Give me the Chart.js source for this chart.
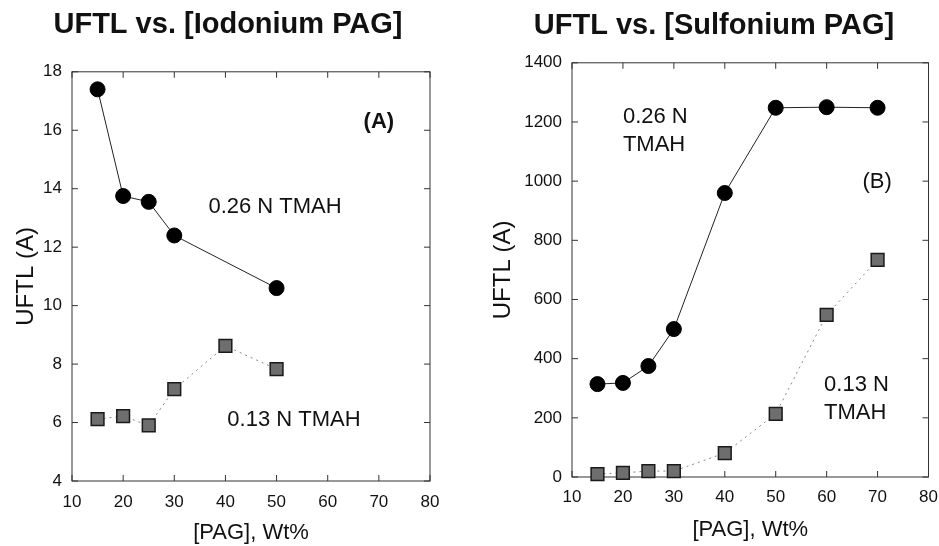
<!DOCTYPE html>
<html>
<head>
<meta charset="utf-8">
<script src="https://cdn.jsdelivr.net/npm/chart.js@4.4.0/dist/chart.umd.min.js"></script>
<style>
body { margin: 0; background: #fff; width: 939px; height: 546px; position: relative; overflow: hidden; }
.box { position: absolute; top: 0; height: 546px; }
#boxA { left: 0; width: 456px; }
#boxB { left: 489px; width: 450px; }
</style>
</head>
<body>
<div class="box" id="boxA"><canvas id="chartA"></canvas></div>
<div class="box" id="boxB"><canvas id="chartB"></canvas></div>
<script>
// (A) iodonium PAG
const pagA026 = [15, 20, 25, 30, 50];
const uftlA026 = [17.4, 13.75, 13.55, 12.4, 10.6];
const pagA013 = [15, 20, 25, 30, 40, 50];
const uftlA013 = [6.12, 6.22, 5.9, 7.14, 8.62, 7.83];

// (B) sulfonium PAG
const pagB = [15, 20, 25, 30, 40, 50, 60, 70];
const uftlB026 = [314, 318, 375, 500, 960, 1248, 1250, 1248];
const uftlB013 = [10, 14, 20, 20, 81, 213, 548, 734];

const FONT = "'Liberation Sans', Arial, sans-serif";
Chart.defaults.font.family = FONT;
Chart.defaults.color = '#111';

function pts(xs, ys) {
    return xs.map((x, i) => ({x: x, y: ys[i]}));
}

// box round the plot with short ticks pointing inwards on every side
const framePlugin = {
    id: 'frame',
    beforeDatasetsDraw(chart) {
        const {ctx, chartArea: a, scales} = chart;
        ctx.save();
        ctx.strokeStyle = '#333';
        ctx.lineWidth = 1;
        ctx.strokeRect(a.left, a.top, a.right - a.left, a.bottom - a.top);
        ctx.beginPath();
        scales.x.ticks.forEach(t => {
            const px = scales.x.getPixelForValue(t.value);
            ctx.moveTo(px, a.bottom); ctx.lineTo(px, a.bottom - 6);
            ctx.moveTo(px, a.top); ctx.lineTo(px, a.top + 6);
        });
        scales.y.ticks.forEach(t => {
            const py = scales.y.getPixelForValue(t.value);
            ctx.moveTo(a.left, py); ctx.lineTo(a.left + 6, py);
            ctx.moveTo(a.right, py); ctx.lineTo(a.right - 6, py);
        });
        ctx.stroke();
        ctx.restore();
    }
};

// text labels placed in data coordinates
const notesPlugin = {
    id: 'notes',
    afterDatasetsDraw(chart, args, opts) {
        const {ctx, scales} = chart;
        ctx.save();
        ctx.fillStyle = '#111';
        ctx.textBaseline = 'middle';
        (opts.items || []).forEach(n => {
            ctx.font = n.font;
            ctx.textAlign = n.align || 'center';
            ctx.fillText(n.text, scales.x.getPixelForValue(n.x), scales.y.getPixelForValue(n.y));
        });
        ctx.restore();
    }
};

function makeChart(id, cfg) {
    return new Chart(document.getElementById(id), {
        type: 'scatter',
        data: {
            datasets: [{
                label: '0.26 N TMAH',
                data: cfg.strong,
                showLine: true,
                borderColor: '#222',
                borderWidth: 1,
                pointStyle: 'circle',
                pointRadius: 7.5,
                pointBackgroundColor: '#000',
                pointBorderColor: '#000',
                clip: false
            }, {
                label: '0.13 N TMAH',
                data: cfg.weak,
                showLine: true,
                borderColor: '#888',
                borderWidth: 1,
                borderDash: [2, 4],
                pointStyle: 'rect',
                pointRadius: 9,
                pointBackgroundColor: '#6e6e6e',
                pointBorderColor: '#1a1a1a',
                pointBorderWidth: 1.5,
                clip: false
            }]
        },
        options: {
            responsive: true,
            maintainAspectRatio: false,
            animation: false,
            layout: {padding: 0},
            plugins: {
                legend: {display: false},
                tooltip: {enabled: false},
                title: {
                    display: true,
                    text: cfg.title,
                    font: {size: 29, weight: 'bold'},
                    color: '#111',
                    padding: {top: cfg.titleTop, bottom: cfg.titleBottom}
                },
                notes: {items: cfg.notes}
            },
            scales: {
                x: {
                    type: 'linear',
                    min: 10, max: 80,
                    ticks: {stepSize: 10, font: {size: 17}, padding: cfg.xTickPad, maxRotation: 0},
                    grid: {display: false, drawTicks: false},
                    border: {display: false},
                    title: {display: true, text: '[PAG], Wt%', font: {size: 22}, padding: {top: 0, bottom: cfg.xTitlePad}},
                    afterFit: s => { s.height = cfg.xHeight; s.paddingLeft = 0; s.paddingRight = 0; }
                },
                y: {
                    type: 'linear',
                    min: cfg.yMin, max: cfg.yMax,
                    ticks: {stepSize: cfg.yStep, font: {size: 17}, padding: 10, callback: v => String(v)},
                    grid: {display: false, drawTicks: false},
                    border: {display: false},
                    title: {display: true, text: 'UFTL (A)', font: {size: 24}, padding: {top: cfg.yTitlePad, bottom: 0}},
                    afterFit: s => { s.width = cfg.yWidth; }
                },
                // empty strip on the right, keeps the title centred on the whole panel
                yRight: {
                    type: 'linear',
                    position: 'right',
                    min: cfg.yMin, max: cfg.yMax,
                    ticks: {display: false},
                    grid: {display: false, drawTicks: false},
                    border: {display: false},
                    afterFit: s => { s.width = cfg.rightWidth; }
                }
            }
        },
        plugins: [framePlugin, notesPlugin]
    });
}

makeChart('chartA', {
    title: 'UFTL vs. [Iodonium PAG]',
    strong: pts(pagA026, uftlA026),
    weak: pts(pagA013, uftlA013),
    yMin: 4, yMax: 18, yStep: 2,
    rightWidth: 26, yWidth: 72, xHeight: 65,
    titleTop: 8, titleBottom: 29,
    xTickPad: 11, xTitlePad: 0, yTitlePad: 12,
    notes: [
        {x: 70, y: 16.3, text: '(A)', font: "bold 22px " + FONT},
        {x: 49.7, y: 13.38, text: '0.26 N TMAH', font: "22px " + FONT},
        {x: 53.4, y: 6.08, text: '0.13 N TMAH', font: "22px " + FONT}
    ]
});

makeChart('chartB', {
    title: 'UFTL vs. [Sulfonium PAG]',
    strong: pts(pagB, uftlB026),
    weak: pts(pagB, uftlB013),
    yMin: 0, yMax: 1400, yStep: 200,
    rightWidth: 9, yWidth: 83, xHeight: 69,
    titleTop: 9, titleBottom: 19,
    xTickPad: 10, xTitlePad: 3, yTitlePad: 0,
    notes: [
        {x: 20, y: 1217, text: '0.26 N', font: "22px " + FONT, align: 'left'},
        {x: 20, y: 1123, text: 'TMAH', font: "22px " + FONT, align: 'left'},
        {x: 69.9, y: 998, text: '(B)', font: "22px " + FONT},
        {x: 59.5, y: 311, text: '0.13 N', font: "22px " + FONT, align: 'left'},
        {x: 59.5, y: 216, text: 'TMAH', font: "22px " + FONT, align: 'left'}
    ]
});
</script>
</body>
</html>
